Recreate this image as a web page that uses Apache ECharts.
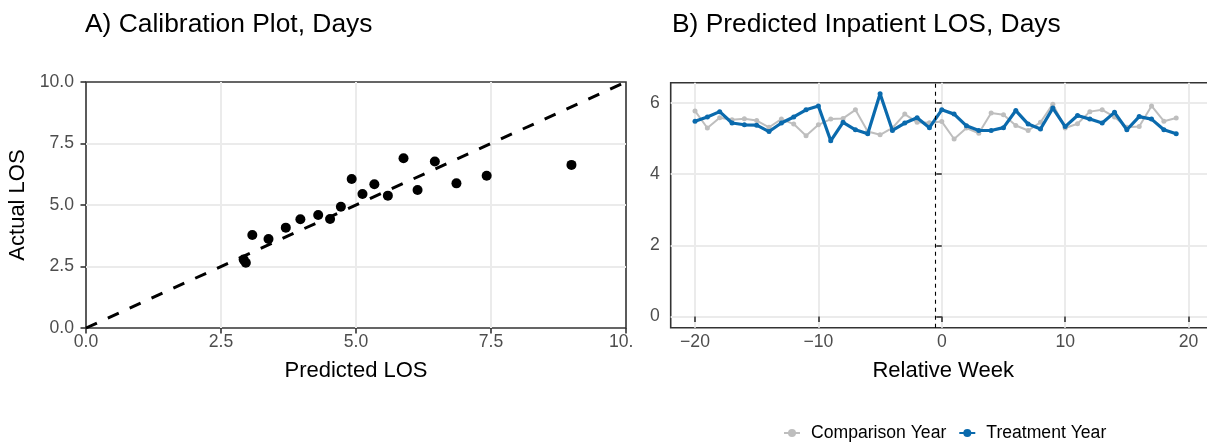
<!DOCTYPE html>
<html>
<head>
<meta charset="utf-8">
<script src="https://cdn.jsdelivr.net/npm/echarts@6/dist/echarts.min.js"></script>
<style>
  html, body { margin: 0; padding: 0; background: #fff; }
  #wrap { position: relative; width: 1207px; height: 442px; overflow: hidden; }
  #left { position: absolute; left: 0; top: 0; width: 632px; height: 442px; }
  #right { position: absolute; left: 632px; top: 0; width: 575px; height: 442px; }
</style>
</head>
<body>
<div id="wrap"><div id="left"></div><div id="right"></div></div>
<script>
// ---- Panel A data: calibration ----
const predictedLOS = [2.92, 2.96, 3.08, 3.38, 3.70, 3.97, 4.30, 4.52, 4.72, 4.92, 5.12, 5.34, 5.59, 5.88, 6.14, 6.46, 6.86, 7.42, 8.99];
const actualLOS    = [2.78, 2.65, 3.78, 3.62, 4.08, 4.42, 4.59, 4.43, 4.93, 6.06, 5.45, 5.84, 5.38, 6.90, 5.61, 6.77, 5.88, 6.19, 6.63];
const identityLine = [0, 10];

// ---- Panel B data: weekly predicted LOS ----
const weeks = [-20,-19,-18,-17,-16,-15,-14,-13,-12,-11,-10,-9,-8,-7,-6,-5,-4,-3,-2,-1,
               0,1,2,3,4,5,6,7,8,9,10,11,12,13,14,15,16,17,18,19];
const comparisonYear = [5.78,5.30,5.59,5.53,5.56,5.51,5.32,5.55,5.41,5.08,5.39,5.55,5.57,5.81,5.20,5.11,5.30,5.69,5.46,5.45,
                        5.48,4.99,5.30,5.15,5.72,5.67,5.37,5.23,5.46,5.97,5.30,5.42,5.76,5.81,5.61,5.32,5.34,5.92,5.49,5.58];
const treatmentYear  = [5.49,5.61,5.76,5.44,5.39,5.38,5.20,5.44,5.61,5.81,5.92,4.94,5.46,5.25,5.14,6.26,5.23,5.44,5.59,5.31,
                        5.81,5.69,5.36,5.23,5.23,5.31,5.79,5.41,5.27,5.86,5.34,5.65,5.55,5.44,5.74,5.25,5.62,5.55,5.25,5.14];
const interventionWeek = -0.5;
const xTicksB = [-20, -10, 0, 10, 20];
const yTicksB = [0, 2, 4, 6];

const FONT = "'Liberation Sans', Arial, Helvetica, sans-serif";
const GRID_COLOR = '#ebebeb';
const TICK_COLOR = '#333333';
const LABEL_COLOR = '#4d4d4d';
const GRAY = '#bebebe';
const BLUE = '#0a6aad';

// ---------- Panel A ----------
const chartA = echarts.init(document.getElementById('left'), null, { renderer: 'canvas' });
chartA.setOption({
  animation: false,
  textStyle: { fontFamily: FONT },
  title: {
    text: 'A) Calibration Plot, Days',
    left: 80, top: 7,
    textStyle: { fontFamily: FONT, fontSize: 26.4, fontWeight: 'normal', color: '#000' }
  },
  grid: { left: 86, top: 82, width: 540, height: 246, outerBoundsMode: 'none', containLabel: false,
          show: true, borderColor: '#333333', borderWidth: 1.6, backgroundColor: 'transparent' },
  xAxis: {
    type: 'value', min: 0, max: 10, interval: 2.5,
    name: 'Predicted LOS', nameLocation: 'middle', nameGap: 32,
    nameTextStyle: { fontFamily: FONT, fontSize: 22, color: '#000' },
    axisLine: { show: false },
    axisTick: { show: true, length: 5.5, lineStyle: { color: TICK_COLOR, width: 1.6 } },
    axisLabel: { margin: 5, hideOverlap: false, showMaxLabel: true, showMinLabel: true, fontFamily: FONT, fontSize: 17.6, color: LABEL_COLOR, formatter: v => v.toFixed(1) },
    splitLine: { show: true, showMinLine: false, showMaxLine: false, lineStyle: { color: GRID_COLOR, width: 2 } }
  },
  yAxis: {
    type: 'value', min: 0, max: 10, interval: 2.5,
    name: 'Actual LOS', nameLocation: 'middle', nameGap: 55, nameRotate: 90,
    nameTextStyle: { fontFamily: FONT, fontSize: 22, color: '#000' },
    axisLine: { show: false },
    axisTick: { show: true, length: 5.5, lineStyle: { color: TICK_COLOR, width: 1.6 } },
    axisLabel: { margin: 12, fontFamily: FONT, fontSize: 17.6, color: LABEL_COLOR, formatter: v => v.toFixed(1) },
    splitLine: { show: true, showMinLine: false, showMaxLine: false, lineStyle: { color: GRID_COLOR, width: 2 } }
  },
  series: [
    {
      type: 'scatter',
      data: predictedLOS.map((p, i) => [p, actualLOS[i]]),
      symbol: 'circle', symbolSize: 10,
      itemStyle: { color: '#000', opacity: 1 },
      z: 3
    },
    {
      type: 'line',
      data: identityLine.map(v => [v, v]),
      symbol: 'none',
      lineStyle: { color: '#000', width: 3, type: [12, 12], cap: 'butt' },
      z: 4
    }
  ]
});

// ---------- Panel B ----------
const chartB = echarts.init(document.getElementById('right'), null, { renderer: 'canvas' });
chartB.setOption({
  animation: false,
  textStyle: { fontFamily: FONT },
  title: {
    text: 'B) Predicted Inpatient LOS, Days',
    left: 35, top: 7,
    textStyle: { fontFamily: FONT, fontSize: 26.4, fontWeight: 'normal', color: '#000' }
  },
  legend: {
    left: 146, top: 419,
    itemWidth: 16, itemHeight: 10, itemGap: 12,
    textStyle: { fontFamily: FONT, fontSize: 17.6, color: '#000', padding: [0, 0, 0, 6] },
    data: ['Comparison Year', 'Treatment Year']
  },
  grid: { left: 38.7, top: 82.7, width: 545, height: 245, outerBoundsMode: 'none', containLabel: false,
          show: true, borderColor: '#333333', borderWidth: 1.6, backgroundColor: 'transparent' },
  xAxis: {
    type: 'value', min: -21.97, max: 22.2,
    name: 'Relative Week', nameLocation: 'middle', nameGap: 32,
    nameTextStyle: { fontFamily: FONT, fontSize: 22, color: '#000' },
    axisLine: { show: false },
    axisTick: { show: true, length: 5.5, customValues: xTicksB, lineStyle: { color: TICK_COLOR, width: 1.6 } },
    axisLabel: { margin: 5, customValues: xTicksB, fontFamily: FONT, fontSize: 17.6, color: LABEL_COLOR, formatter: v => String(v).replace('-', '\u2212') },
    splitLine: { show: true, lineStyle: { color: GRID_COLOR, width: 2 } }
  },
  yAxis: {
    type: 'value', min: -0.313, max: 6.573,
    axisLine: { show: false },
    axisTick: { show: true, length: 5.5, customValues: yTicksB, lineStyle: { color: TICK_COLOR, width: 1.6 } },
    axisLabel: { margin: 11, customValues: yTicksB, fontFamily: FONT, fontSize: 17.6, color: LABEL_COLOR },
    splitLine: { show: true, lineStyle: { color: GRID_COLOR, width: 2 } }
  },
  series: [
    {
      name: 'Comparison Year', type: 'line',
      data: weeks.map((w, i) => [w, comparisonYear[i]]),
      symbol: 'circle', symbolSize: 5, showSymbol: true,
      itemStyle: { color: GRAY }, lineStyle: { color: GRAY, width: 2 },
      z: 2
    },
    {
      name: 'Treatment Year', type: 'line',
      data: weeks.map((w, i) => [w, treatmentYear[i]]),
      symbol: 'circle', symbolSize: 5, showSymbol: true,
      itemStyle: { color: BLUE }, lineStyle: { color: BLUE, width: 3.2 },
      z: 3,
      markLine: {
        silent: true, symbol: 'none', label: { show: false },
        lineStyle: { color: '#000', width: 1.1, type: [4, 4] },
        data: [{ xAxis: interventionWeek }]
      }
    }
  ]
});
</script>
</body>
</html>
